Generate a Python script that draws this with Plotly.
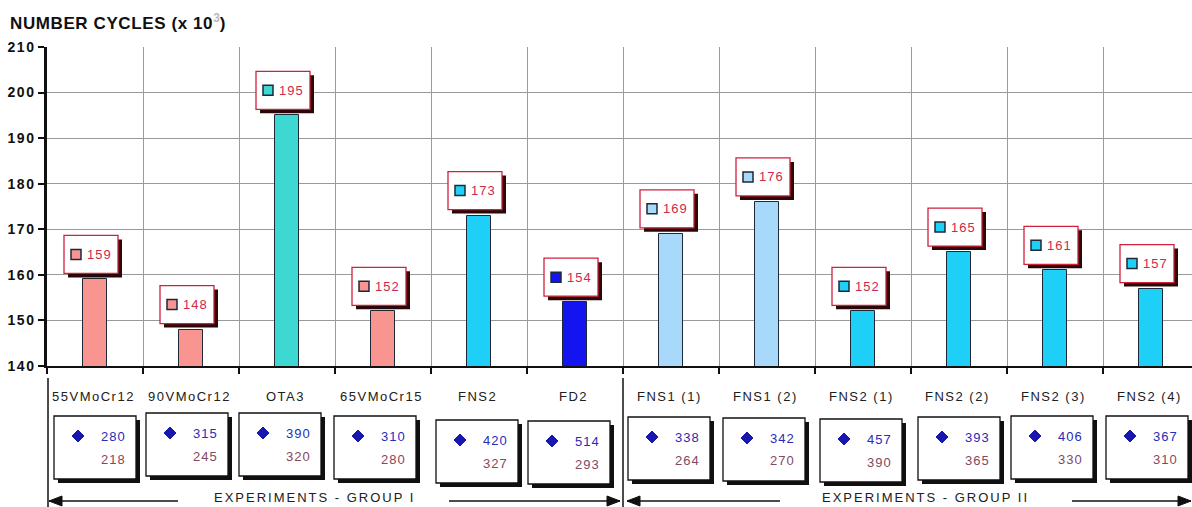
import plotly.graph_objects as go

# ---------------- data ----------------
categories = ["55VMoCr12", "90VMoCr12", "OTA3", "65VMoCr15", "FNS2", "FD2",
              "FNS1 (1)", "FNS1 (2)", "FNS2 (1)", "FNS2 (2)", "FNS2 (3)", "FNS2 (4)"]
cycles = [159, 148, 195, 152, 173, 154, 169, 176, 152, 165, 161, 157]
upper_values = [280, 315, 390, 310, 420, 514, 338, 342, 457, 393, 406, 367]
lower_values = [218, 245, 320, 280, 327, 293, 264, 270, 390, 365, 330, 310]
group_labels = ["EXPERIMENTS - GROUP I", "EXPERIMENTS - GROUP II"]
y_ticks = [140, 150, 160, 170, 180, 190, 200, 210]
y_title = "NUMBER CYCLES (x 10"

# ---------------- styles / layout ----------------
SALMON, TURQ, CYAN, BLUE, LBLUE = "#F89590", "#3ED8D2", "#1ED0F8", "#1414F0", "#A8D8FA"
bar_colors = [SALMON, SALMON, TURQ, SALMON, CYAN, BLUE,
              LBLUE, LBLUE, CYAN, CYAN, CYAN, CYAN]

W, H = 1192, 507
L, T, R, B = 47, 47, 1192, 366          # plot area in pixels
CAT_PX = 96.0                            # pixels per category
PW, PH = R - L, B - T

box_left = [54, 146, 239, 334, 436, 528, 628, 723, 820, 918, 1011, 1106]
box_top = [416, 413, 413, 416, 420, 421, 417, 418, 419, 417, 416, 416]
BOX_W, BOX_H = 82, 63


def px(x):
    return (x - L) / PW


def py(y):
    return (B - y) / PH


FONT = "Liberation Sans"

fig = go.Figure()
fig.add_trace(go.Bar(
    x=list(range(len(categories))), y=cycles,
    marker=dict(color=bar_colors, line=dict(color="#1E2838", width=1)),
    width=0.26, hoverinfo="skip", showlegend=False,
))

shapes = []
annotations = []

# value label boxes above bars
for i, v in enumerate(cycles):
    common = dict(type="rect", xref="x", yref="y", xsizemode="pixel", ysizemode="pixel",
                  xanchor=i, yanchor=v)
    shapes.append(dict(common, x0=-27, x1=27, y0=2, y1=40,
                       fillcolor="#2A0808", line=dict(width=0)))
    shapes.append(dict(common, x0=-31, x1=23, y0=6, y1=44,
                       fillcolor="white", line=dict(color="#D0203C", width=1.3)))
    shapes.append(dict(common, x0=-24, x1=-14, y0=20, y1=30,
                       fillcolor=bar_colors[i], line=dict(color="#1E2838", width=1.5)))
    annotations.append(dict(x=i, y=v, xref="x", yref="y", xshift=4, yshift=25,
                            text='<span style="letter-spacing:1px">%d</span>' % v,
                            showarrow=False,
                            font=dict(family=FONT, size=13, color="#D02848"),
                            xanchor="center", yanchor="middle"))

# category labels and data boxes below the axis
for i, name in enumerate(categories):
    cx = L + CAT_PX * (i + 0.5) - 2
    annotations.append(dict(x=px(cx), y=py(396), xref="paper", yref="paper",
                            text='<span style="letter-spacing:1.5px">%s</span>' % name,
                            showarrow=False, xanchor="center", yanchor="middle",
                            font=dict(family=FONT, size=13, color="#202020")))
    l, t = box_left[i], box_top[i]
    r, b = l + BOX_W, t + BOX_H
    shapes.append(dict(type="rect", xref="paper", yref="paper",
                       x0=px(l + 4), x1=px(r + 4), y0=py(b + 4), y1=py(t + 4),
                       fillcolor="#101010", line=dict(width=0)))
    shapes.append(dict(type="rect", xref="paper", yref="paper",
                       x0=px(l), x1=px(r), y0=py(b), y1=py(t),
                       fillcolor="white", line=dict(color="#101010", width=1.3)))
    dx, dy, s = l + 24, t + 20, 6
    path = "M %f,%f L %f,%f L %f,%f L %f,%f Z" % (
        px(dx), py(dy - s), px(dx + s), py(dy), px(dx), py(dy + s), px(dx - s), py(dy))
    shapes.append(dict(type="path", xref="paper", yref="paper", path=path,
                       fillcolor="#1818B0", line=dict(color="#1818B0", width=1)))
    annotations.append(dict(x=px(r - 8), y=py(t + 20), xref="paper", yref="paper",
                            text='<span style="letter-spacing:1px">%d</span>' % upper_values[i],
                            showarrow=False, xanchor="right", yanchor="middle",
                            font=dict(family=FONT, size=13, color="#2A2AB8")))
    annotations.append(dict(x=px(r - 8), y=py(t + 43), xref="paper", yref="paper",
                            text='<span style="letter-spacing:1px">%d</span>' % lower_values[i],
                            showarrow=False, xanchor="right", yanchor="middle",
                            font=dict(family=FONT, size=13, color="#84485E")))

# separators
for xv in (48, 623):
    shapes.append(dict(type="line", xref="paper", yref="paper",
                       x0=px(xv), x1=px(xv), y0=py(378), y1=py(507),
                       line=dict(color="#101010", width=1.5)))

# group arrows
ARROW_Y = 501


def hline(x0, x1):
    shapes.append(dict(type="line", xref="paper", yref="paper",
                       x0=px(x0), x1=px(x1), y0=py(ARROW_Y), y1=py(ARROW_Y),
                       line=dict(color="#101010", width=1.5)))


def head(tip, direction):
    back = tip - 13 * direction
    path = "M %f,%f L %f,%f L %f,%f Z" % (px(tip), py(ARROW_Y), px(back), py(ARROW_Y - 5),
                                          px(back), py(ARROW_Y + 5))
    shapes.append(dict(type="path", xref="paper", yref="paper", path=path,
                       fillcolor="#101010", line=dict(color="#101010", width=1)))


for (tl, l_end, r_start, tr, tcx), label in zip(
        [(49, 178, 449, 620, 314), (627, 780, 1072, 1191, 925)], group_labels):
    hline(tl, l_end)
    hline(r_start, tr)
    head(tl, -1)
    head(tr, 1)
    annotations.append(dict(x=px(tcx), y=py(497), xref="paper", yref="paper",
                            text='<span style="letter-spacing:2px">%s</span>' % label,
                            showarrow=False, xanchor="center", yanchor="middle",
                            font=dict(family=FONT, size=13, color="#202020")))

# title
annotations.append(dict(x=px(8), y=py(22), xref="paper", yref="paper",
                        text='<b><span style="letter-spacing:0.6px">%s</span><sup><span style="color:#B8B8B8">3</span></sup>)</b>' % y_title,
                        showarrow=False, xanchor="left", yanchor="middle",
                        font=dict(family=FONT, size=17, color="#101010")))

fig.update_layout(
    width=W, height=H, autosize=False,
    margin=dict(l=L, r=W - R, t=T, b=H - B, pad=0),
    paper_bgcolor="white", plot_bgcolor="white",
    shapes=shapes, annotations=annotations,
    xaxis=dict(range=[-0.5, -0.5 + PW / CAT_PX],
               tickvals=[k - 0.5 for k in range(len(categories) + 1)],
               showticklabels=False, ticks="outside", ticklen=6, tickwidth=2,
               tickcolor="#101010", showgrid=True, gridcolor="#9A9A9A", gridwidth=1,
               showline=True, linecolor="#101010", linewidth=2, zeroline=False,
               fixedrange=True),
    yaxis=dict(range=[y_ticks[0], y_ticks[-1]], tickvals=y_ticks,
               ticktext=['<span style="letter-spacing:1.5px">%d</span>' % t for t in y_ticks],
               ticks="outside", ticklen=6, tickwidth=2, tickcolor="#101010",
               tickfont=dict(family=FONT, size=14, color="#101010", weight="bold"),
               showgrid=True, gridcolor="#9A9A9A", gridwidth=1,
               showline=True, linecolor="#101010", linewidth=2.5, zeroline=False,
               fixedrange=True),
    bargap=0,
)

fig.write_html("out.html")
